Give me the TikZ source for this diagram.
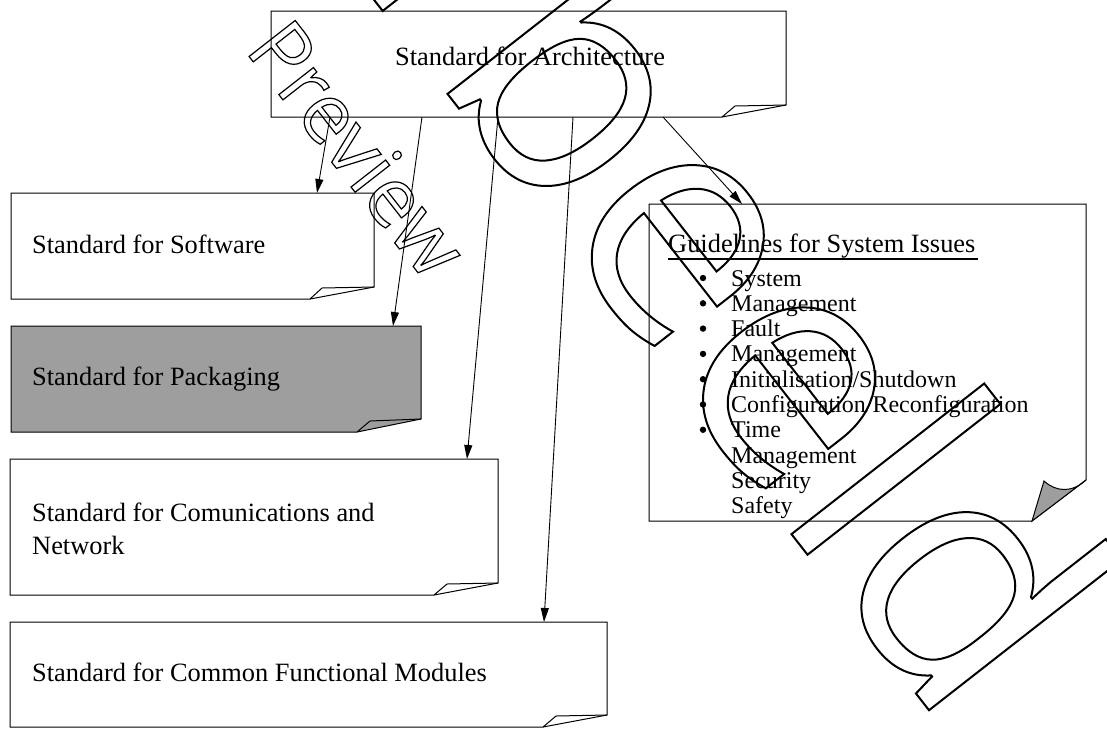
\documentclass[tikz,border=0pt]{standalone}
\usepackage{fontspec}
\setmainfont{Liberation Serif}
\newfontfamily\wmfont{Open Sans}
\usetikzlibrary{arrows.meta}

\newcommand\outl[2]{\special{pdf:literal direct 1 Tr #1 w}#2\special{pdf:literal direct 0 Tr}}

\begin{document}
\begin{tikzpicture}[x=1pt,y=-1pt,font=\fontsize{26.4}{33}\selectfont,
  box/.style={draw,line width=1pt,fill=white},
  fold/.style={draw,line width=1pt},
  link/.style={line width=0.9pt,-{Triangle[length=14pt,width=8pt]}},
  txt/.style={anchor=base west,inner sep=0pt},
  wm/.style={anchor=base west,inner sep=0pt,rotate=-52}]

\useasboundingbox (0,0) rectangle (1107,729);

%Boxes
\draw[box] (271,11) -- (786,11) -- (786,105) -- (722,117) -- (271,117) -- cycle;
\draw[fold] (722,117) -- (735,106) -- (786,105);

\draw[box] (11,193) -- (374,193) -- (374,287) -- (310,299) -- (11,299) -- cycle;
\draw[fold] (310,299) -- (322,288) -- (374,287);

\draw[box,fill=black!38] (11,326) -- (421,326) -- (421,419) -- (357,432) -- (11,432) -- cycle;
\draw[fold] (357,432) -- (370,421) -- (421,419);

\draw[box] (10,459) -- (498,459) -- (498,583) -- (434,595) -- (10,595) -- cycle;
\draw[fold] (434,595) -- (447,584) -- (498,583);

\draw[box] (10,622) -- (607,622) -- (607,715) -- (543,727) -- (10,727) -- cycle;
\draw[fold] (543,727) -- (556,716) -- (607,715);

\draw[box] (649,204) -- (1086,204) -- (1086,480) -- (1032,521) -- (649,521) -- cycle;
\draw[fold,fill=black!38] (1032,521) -- (1044,481) .. controls (1056,492) and (1072,493) .. (1086,480) -- cycle;

%Texts
\node[txt] (arch) at (395,65) {Standard for Architecture};
\node[txt] (soft) at (32,253) {Standard for Software};
\node[txt] (pack) at (32,385) {Standard for Packaging};
\node[txt,align=left] (comm) at (32,554) {Standard for Comunications and\\Network};
\node[txt] (func) at (32,681) {Standard for Common Functional Modules};
\node[txt] (guide) at (668,252) {Guidelines for System Issues};
\draw[line width=1.8pt] (guide.base west) ++(0,7) -- ++(310,0);

\foreach \item [count=\i] in {System,Management,Fault,Management,
  Initialisation/Shutdown,Configuration/Reconfiguration,Time,Management,Security,Safety}{
  \node[txt,font=\fontsize{24}{24}\selectfont] (item\i) at (731,{286+(\i-1)*25.3}) {\item};
  \ifnum\i<8 \fill (703,{278+(\i-1)*25.3}) circle (3.2pt); \fi
}

%Arrows
\coordinate (s1) at (330,117);
\coordinate (s2) at (422,117);
\coordinate (s3) at (498,117);
\coordinate (s4) at (573,117);
\coordinate (s5) at (663,117);
\coordinate (t1) at (317,193);
\coordinate (t2) at (393,326);
\coordinate (t3) at (467,459);
\coordinate (t4) at (544,622);
\coordinate (t5) at (742,204);
\foreach \k in {1,...,5} \draw[link] (s\k) -- (t\k);

%Watermark
\node[wm,font=\wmfont\fontsize{82}{82}\selectfont] (pv) at (244,50) {\outl{1.2}{Preview}};
\node[wm,font=\wmfont\fontsize{322}{322}\selectfont] (vb) at (-4,-484) {\outl{2}{Voorbeeld}};

\end{tikzpicture}
\end{document}
